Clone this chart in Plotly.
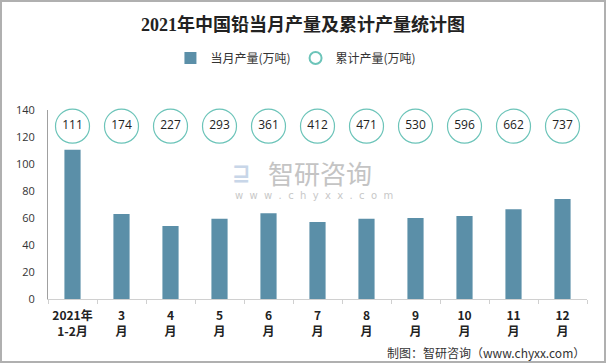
import plotly.graph_objects as go

categories = ["2021年<br>1-2月", "3<br>月", "4<br>月", "5<br>月", "6<br>月", "7<br>月",
              "8<br>月", "9<br>月", "10<br>月", "11<br>月", "12<br>月"]
monthly = [110.5, 63, 54, 59.5, 63.5, 57, 59.5, 60, 61.5, 66.5, 74]
cumulative = [111, 174, 227, 293, 361, 412, 471, 530, 596, 662, 737]
circle_level = [128] * len(categories)
y_ticks = [0, 20, 40, 60, 80, 100, 120, 140]

cjk = "Noto Sans CJK SC"
fig = go.Figure()
fig.add_trace(go.Bar(
    x=categories, y=monthly, name="当月产量(万吨)",
    marker=dict(color="#5b8fa8", line=dict(width=0)),
))
fig.add_trace(go.Scatter(
    x=categories, y=circle_level, name="累计产量(万吨)",
    mode="markers+text", text=[str(v) for v in cumulative],
    textposition="middle center", cliponaxis=False,
    textfont=dict(family="Open Sans, " + cjk, size=12, color="#222222"),
    marker=dict(symbol="circle", size=34, color="white",
                line=dict(color="#6cc4b9", width=1.2)),
))

fig.update_layout(
    width=606, height=363,
    margin=dict(l=48, r=19, t=110, b=64),
    paper_bgcolor="white", plot_bgcolor="white",
    bargap=0.67,
    title=dict(text="<b>2021年中国铅当月产量及累计产量统计图</b>", x=0.5, xanchor="center",
               y=0.932, yanchor="middle",
               font=dict(family="Liberation Serif, " + cjk, size=18, color="#222222")),
    legend=dict(orientation="h", x=0.46, xanchor="center", y=1.275, yanchor="middle",
                font=dict(family=cjk, size=12, color="#333333"),
                itemsizing="constant", traceorder="normal", itemwidth=30),
    font=dict(family=cjk),
    showlegend=True,
)
fig.update_xaxes(
    type="category", range=[-0.5, len(categories) - 0.5],
    showline=True, linecolor="#d0d0d0", linewidth=1,
    ticks="outside", tickson="boundaries", ticklen=4, tickcolor="#d0d0d0",
    tickfont=dict(family=cjk, size=12, color="#222222", weight="bold"), tickangle=0,
    ticklabelstandoff=6,
    showgrid=False, automargin=False,
)
fig.update_yaxes(
    range=[0, 140], tickvals=y_ticks, showline=True, linecolor="#a0a0a0", linewidth=1,
    showgrid=False, zeroline=False, ticks="", automargin=False, ticklabelstandoff=10,
    tickfont=dict(family="Open Sans, " + cjk, size=11, color="#333333"),
)

# watermark
fig.add_annotation(text="智研咨询", xref="paper", yref="paper", x=0.405, y=0.67,
                   xanchor="left", yanchor="middle", showarrow=False,
                   font=dict(family=cjk, size=26, color="#c4c4c4"))
fig.add_annotation(text="w  w  w  .  c  h  y  x  x  .  c  o  m", xref="paper", yref="paper",
                   x=0.3435, y=0.55, xanchor="left", yanchor="middle", showarrow=False,
                   font=dict(family="DejaVu Sans", size=10, color="#c8c8c8"))
fig.add_annotation(text="<b>⊒</b>", xref="paper", yref="paper", x=0.338, y=0.67,
                   xanchor="left", yanchor="middle", showarrow=False,
                   font=dict(family="DejaVu Sans", size=22, color="#c8d6e8"))
# source
fig.add_annotation(text="制图：智研咨询（www.chyxx.com）", xref="paper", yref="paper",
                   x=1.0, y=-0.285, xanchor="right", yanchor="middle", showarrow=False,
                   font=dict(family=cjk, size=12, color="#333333"))
# frame
fig.add_shape(type="rect", xref="paper", yref="paper", x0=-47/539, x1=1+18/539,
              y0=-63/189, y1=1+109/189, line=dict(color="#b0b0b0", width=2))

fig.write_html("out.html", config={"displayModeBar": False},
               post_script="document.body.style.margin='0';document.body.style.padding='0';")
